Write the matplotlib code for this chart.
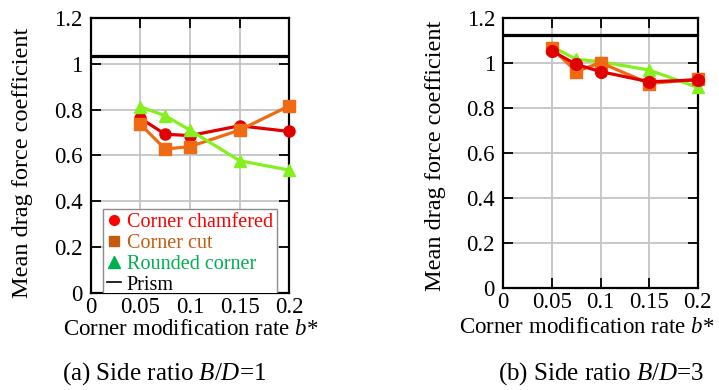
import matplotlib
matplotlib.use("Agg")
import matplotlib.pyplot as plt
from matplotlib.lines import Line2D

plt.rcParams['font.family'] = ['Liberation Serif', 'DejaVu Serif']
plt.rcParams['mathtext.fontset'] = 'custom'
plt.rcParams['mathtext.it'] = 'Liberation Serif:italic'
plt.rcParams['mathtext.rm'] = 'Liberation Serif'

# Data
b_star = [0.05, 0.075, 0.1, 0.15, 0.2]

# (a) B/D = 1
a_chamfered = [0.763, 0.693, 0.687, 0.730, 0.705]
a_cut = [0.737, 0.628, 0.639, 0.711, 0.817]
a_rounded = [0.813, 0.774, 0.711, 0.577, 0.536]
a_prism = 1.034

# (b) B/D = 3
b_chamfered = [1.055, 0.995, 0.963, 0.918, 0.926]
b_cut = [1.067, 0.963, 1.003, 0.910, 0.929]
b_rounded = [1.074, 1.018, 1.007, 0.970, 0.893]
b_prism = 1.126

x_ticks = [0, 0.05, 0.1, 0.15, 0.2]
x_ticklabels = ['0', '0.05', '0.1', '0.15', '0.2']
y_ticks = [0, 0.2, 0.4, 0.6, 0.8, 1.0, 1.2]
y_ticklabels = ['0', '0.2', '0.4', '0.6', '0.8', '1', '1.2']

legend_labels = ['Corner chamfered', 'Corner cut', 'Rounded corner', 'Prism']

RED = '#e00000'
ORANGE = '#f06a14'
GREEN = '#84f01e'

fig = plt.figure(figsize=(7.19, 3.90), dpi=100)
axL = fig.add_axes([0.1261, 0.2495, 0.2762, 0.7036])
axR = fig.add_axes([0.7000, 0.2608, 0.2704, 0.6923])

def style(ax):
    ax.set_xlim(0, 0.2)
    ax.set_ylim(0, 1.2)
    ax.set_xticks(x_ticks)
    ax.set_xticklabels(x_ticklabels)
    ax.set_yticks(y_ticks)
    ax.set_yticklabels(y_ticklabels)
    ax.grid(True, color='#c4c4c4', linewidth=1.3)
    ax.set_axisbelow(True)
    ax.tick_params(direction='in', length=7.5, width=1.3, top=True, right=True,
                   labelsize=16.5, colors='black')
    ax.tick_params(axis='x', pad=3)
    ax.tick_params(axis='y', pad=6)
    for s in ax.spines.values():
        s.set_linewidth(1.6)
    ax.set_ylabel('Mean drag force coefficient', fontsize=17.5)
    ax.set_xlabel('Corner modification rate $b$*', fontsize=16.5)

def series(ax, y, color, marker, ms, z):
    ax.plot(b_star, y, color=color, marker=marker, markersize=ms, linewidth=2.3,
            markeredgecolor=color, zorder=z, clip_on=False)

# Left panel
style(axL)
axL.axhline(a_prism, color='black', linewidth=2.3, zorder=5)
series(axL, a_chamfered, RED, 'o', 8, 3)
series(axL, a_cut, ORANGE, 's', 8, 4)
series(axL, a_rounded, GREEN, '^', 8.5, 5)

handles = [
    Line2D([], [], linestyle='none', marker='o', color='#ff0000', markersize=7),
    Line2D([], [], linestyle='none', marker='s', color='#c55a11', markersize=6.5),
    Line2D([], [], linestyle='none', marker='^', color='#00b050', markersize=9),
    Line2D([], [], color='black', linewidth=1.2),
]
leg = axL.legend(handles, legend_labels, loc='upper left', bbox_to_anchor=(0.06, 0.304),
                 borderaxespad=0, fontsize=14.5, handlelength=0.7, handletextpad=0.3,
                 labelspacing=0.08, borderpad=0.2, fancybox=False, framealpha=1,
                 edgecolor='#8c8c8c')
leg.get_frame().set_linewidth(1.0)
leg_colors = ['#ff0000', '#c55a11', '#00b050', 'black']
for t, c in zip(leg.get_texts(), leg_colors):
    t.set_color(c)
for a in leg.findobj():
    try:
        a.set_clip_box(axL.bbox)
        a.set_clip_on(True)
    except Exception:
        pass
axL.xaxis.set_label_coords(0.505, -0.095)
axL.yaxis.set_label_coords(-0.29, 0.473)

# Right panel
style(axR)
axR.axhline(b_prism, color='black', linewidth=2.3, zorder=5)
series(axR, b_rounded, GREEN, '^', 8.5, 3)
series(axR, b_cut, ORANGE, 's', 8, 4)
series(axR, b_chamfered, RED, 'o', 8.5, 5)
axR.xaxis.set_label_coords(0.43, -0.105)
axR.yaxis.set_label_coords(-0.295, 0.49)

fig.text(164 / 719, 1 - 374 / 390, '(a) Side ratio $B$/$D$=1', ha='center', va='center', fontsize=18)
fig.text(601 / 719, 1 - 374 / 390, '(b) Side ratio $B$/$D$=3', ha='center', va='center', fontsize=18)

fig.savefig('out.png', dpi=100)
